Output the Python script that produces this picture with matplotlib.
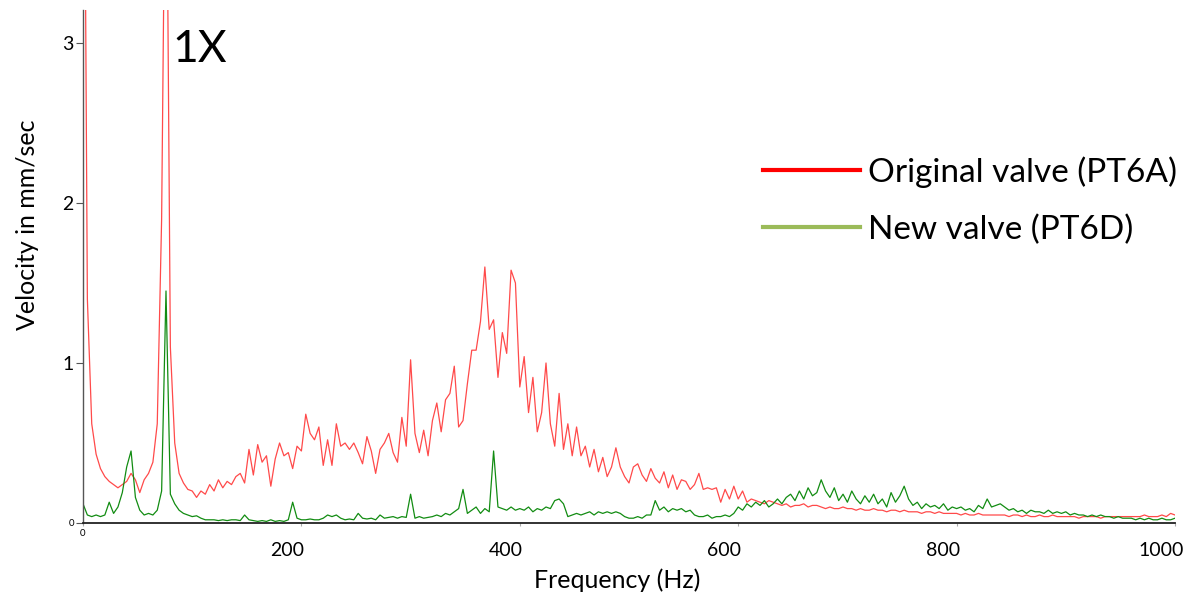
import numpy as np
import matplotlib
matplotlib.use("Agg")
import matplotlib.pyplot as plt
from matplotlib.lines import Line2D
from matplotlib.transforms import ScaledTranslation

plt.rcParams['font.family'] = ['Lato', 'DejaVu Sans']

# Frequency grid step: 4 Hz from 0 to 1000 Hz
freq_start, freq_stop = 0, 1000

original_valve = [
    6.0, 1.4, 0.62, 0.43, 0.34, 0.29, 0.26, 0.24, 0.22, 0.24,
    0.26, 0.31, 0.27, 0.19, 0.27, 0.31, 0.38, 0.62, 1.9, 4.8,
    1.1, 0.5, 0.31, 0.25, 0.21, 0.2, 0.16, 0.2, 0.18, 0.24,
    0.2, 0.27, 0.22, 0.26, 0.24, 0.29, 0.31, 0.25, 0.46, 0.3,
    0.49, 0.38, 0.42, 0.23, 0.4, 0.5, 0.42, 0.44, 0.34, 0.48,
    0.45, 0.68, 0.56, 0.52, 0.6, 0.36, 0.52, 0.36, 0.62, 0.48,
    0.5, 0.46, 0.5, 0.44, 0.37, 0.54, 0.45, 0.31, 0.46, 0.5,
    0.56, 0.44, 0.38, 0.66, 0.48, 1.02, 0.56, 0.44, 0.58, 0.42,
    0.64, 0.75, 0.57, 0.77, 0.81, 0.98, 0.6, 0.64, 0.87, 1.08,
    1.08, 1.26, 1.6, 1.21, 1.27, 0.91, 1.19, 1.06, 1.58, 1.5,
    0.85, 1.04, 0.69, 0.91, 0.57, 0.69, 1.0, 0.62, 0.48, 0.81,
    0.46, 0.62, 0.42, 0.6, 0.42, 0.48, 0.35, 0.46, 0.32, 0.41,
    0.29, 0.35, 0.47, 0.35, 0.29, 0.25, 0.35, 0.37, 0.3, 0.26,
    0.34, 0.28, 0.25, 0.32, 0.22, 0.3, 0.21, 0.27, 0.26, 0.21,
    0.24, 0.31, 0.21, 0.22, 0.21, 0.22, 0.13, 0.21, 0.15, 0.23,
    0.15, 0.2, 0.13, 0.15, 0.14, 0.13, 0.12, 0.14, 0.13, 0.12,
    0.11, 0.12, 0.1, 0.11, 0.11, 0.12, 0.1, 0.11, 0.11, 0.1,
    0.09, 0.1, 0.09, 0.09, 0.1, 0.09, 0.09, 0.08, 0.09, 0.08,
    0.08, 0.09, 0.08, 0.08, 0.07, 0.08, 0.08, 0.07, 0.08, 0.07,
    0.07, 0.07, 0.06, 0.07, 0.07, 0.06, 0.07, 0.06, 0.06, 0.06,
    0.06, 0.05, 0.06, 0.05, 0.05, 0.06, 0.05, 0.05, 0.05, 0.05,
    0.05, 0.05, 0.04, 0.05, 0.05, 0.04, 0.05, 0.04, 0.04, 0.05,
    0.04, 0.04, 0.05, 0.04, 0.04, 0.04, 0.04, 0.04, 0.03, 0.04,
    0.04, 0.04, 0.04, 0.03, 0.04, 0.04, 0.04, 0.04, 0.04, 0.04,
    0.04, 0.04, 0.04, 0.05, 0.04, 0.04, 0.04, 0.05, 0.04, 0.06,
    0.05,
]

new_valve = [
    0.12, 0.05, 0.04, 0.05, 0.04, 0.05, 0.13, 0.06, 0.1, 0.19,
    0.35, 0.45, 0.16, 0.08, 0.05, 0.06, 0.05, 0.08, 0.2, 1.45,
    0.18, 0.12, 0.08, 0.06, 0.05, 0.04, 0.045, 0.03, 0.02, 0.02,
    0.02, 0.015, 0.02, 0.015, 0.02, 0.02, 0.015, 0.05, 0.02, 0.015,
    0.01, 0.015, 0.01, 0.02, 0.01, 0.015, 0.01, 0.02, 0.13, 0.03,
    0.02, 0.02, 0.025, 0.02, 0.02, 0.03, 0.05, 0.04, 0.05, 0.03,
    0.02, 0.025, 0.02, 0.06, 0.03, 0.025, 0.03, 0.02, 0.05, 0.03,
    0.035, 0.04, 0.03, 0.04, 0.035, 0.18, 0.03, 0.04, 0.03, 0.035,
    0.04, 0.05, 0.04, 0.06, 0.05, 0.07, 0.09, 0.21, 0.06, 0.08,
    0.1, 0.06, 0.09, 0.07, 0.45, 0.1, 0.09, 0.08, 0.1, 0.08,
    0.09, 0.08, 0.1, 0.07, 0.09, 0.08, 0.1, 0.09, 0.14, 0.15,
    0.12, 0.04, 0.05, 0.06, 0.05, 0.06, 0.07, 0.05, 0.07, 0.06,
    0.07, 0.06, 0.07, 0.06, 0.04, 0.03, 0.03, 0.04, 0.03, 0.05,
    0.05, 0.14, 0.08, 0.1, 0.07, 0.09, 0.08, 0.09, 0.07, 0.08,
    0.05, 0.04, 0.04, 0.05, 0.03, 0.04, 0.04, 0.05, 0.04, 0.06,
    0.1, 0.08, 0.12, 0.1, 0.13, 0.11, 0.14, 0.1, 0.12, 0.15,
    0.12, 0.16, 0.18, 0.14, 0.2, 0.15, 0.22, 0.17, 0.19, 0.27,
    0.2, 0.16, 0.22, 0.14, 0.18, 0.13, 0.2, 0.15, 0.12, 0.17,
    0.13, 0.18, 0.12, 0.15, 0.1, 0.19, 0.13, 0.17, 0.23, 0.15,
    0.11, 0.13, 0.09, 0.12, 0.1, 0.11, 0.09, 0.12, 0.08, 0.1,
    0.09, 0.1, 0.08, 0.09, 0.07, 0.11, 0.09, 0.15, 0.1, 0.11,
    0.12, 0.1, 0.08, 0.09, 0.07, 0.08, 0.06, 0.08, 0.07, 0.07,
    0.06, 0.08, 0.06, 0.07, 0.06, 0.07, 0.05, 0.06, 0.05, 0.05,
    0.04, 0.05, 0.04, 0.05, 0.04, 0.04, 0.03, 0.04, 0.03, 0.03,
    0.03, 0.02, 0.03, 0.02, 0.03, 0.02, 0.02, 0.03, 0.02, 0.02,
    0.03,
]

x_ticks = [0, 200, 400, 600, 800, 1000]
x_tick_labels = ['', '200', '400', '600', '800', '1000']
y_ticks = [0, 1, 2, 3]
y_tick_labels = ['', '1', '2', '3']

series_labels = ['Original valve (PT6A)', 'New valve (PT6D)']
x_title = 'Frequency (Hz)'
y_title = 'Velocity in mm/sec'
annotation = '1X'

freq_orig = np.linspace(freq_start, freq_stop, len(original_valve))
freq_new = np.linspace(freq_start, freq_stop, len(new_valve))

W, H = 1188, 594
fig = plt.figure(figsize=(W / 100, H / 100), dpi=100)
ax = fig.add_axes([83 / W, 1 - 523 / H, (1175 - 83) / W, (523 - 10) / H])

ax.plot(freq_orig, original_valve, color='#ff2a2a', lw=0.9, alpha=0.85)
ax.plot(freq_new, new_valve, color='#128c12', lw=0.9)

ax.set_xlim(0, 1000)
ax.set_ylim(0, 3.206)
for s in ['top', 'right']:
    ax.spines[s].set_visible(False)
ax.spines['left'].set_color('#555555')
ax.spines['left'].set_linewidth(1.0)
ax.spines['bottom'].set_color('#222222')
ax.spines['bottom'].set_linewidth(1.3)

ax.set_xticks(x_ticks)
ax.set_xticklabels(x_tick_labels, fontsize=14)
ax.set_yticks(y_ticks)
ax.set_yticklabels(y_tick_labels, fontsize=14)
ax.tick_params(axis='x', length=2, width=0.8, color='#aaaaaa', pad=12)
ax.tick_params(axis='y', length=5, width=0.8, color='#555555', pad=2)
off = ScaledTranslation(-14 / 100, 0, fig.dpi_scale_trans)
for lab in ax.get_xticklabels():
    lab.set_transform(lab.get_transform() + off)

# small zero labels
ax.annotate('0', xy=(0, 0), xytext=(-6, 0), textcoords='offset points',
            ha='right', va='center', fontsize=7)
ax.annotate('0', xy=(0, 0), xytext=(0, -4), textcoords='offset points',
            ha='center', va='top', fontsize=7)

fig.text(617 / W, 1 - 580 / H, x_title, ha='center', va='center', fontsize=18)
fig.text(28 / W, 1 - 225 / H, y_title, ha='center', va='center', fontsize=18,
         rotation=90)

ax.text(172 / W, 1 - 50 / H, annotation, transform=fig.transFigure,
        ha='left', va='center', fontsize=32)

handles = [Line2D([], [], color='#ff0000', lw=3),
           Line2D([], [], color='#9bbb59', lw=3)]
fig.legend(handles, series_labels, loc='upper left',
           bbox_to_anchor=(763 / W, 1 - 156 / H), frameon=False,
           fontsize=24, handlelength=2.9, handletextpad=0.25,
           labelspacing=0.8, borderpad=0, borderaxespad=0)

fig.savefig('out.png', dpi=100)
